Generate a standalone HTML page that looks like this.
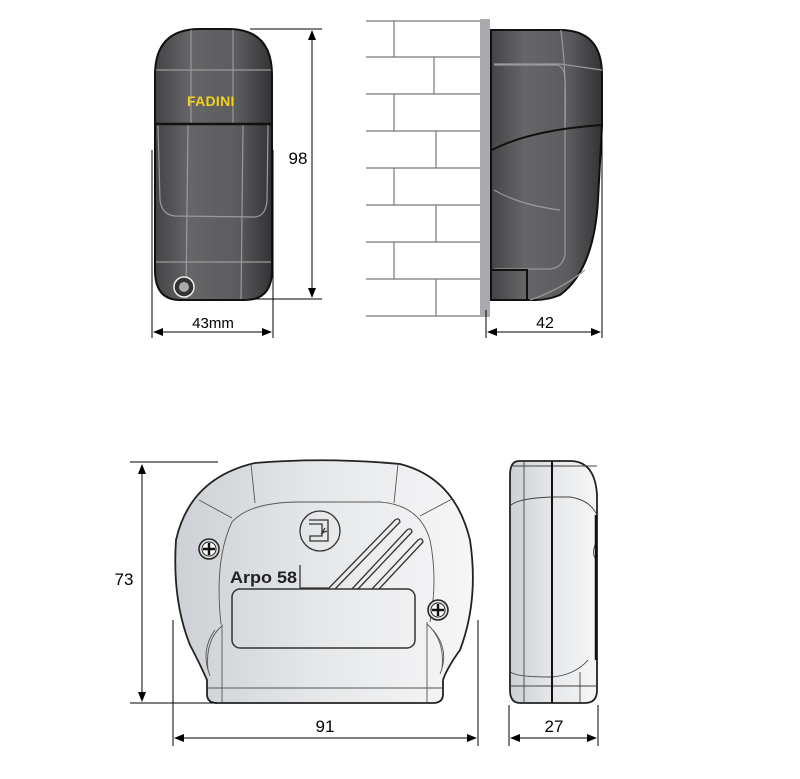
<!DOCTYPE html>
<html><head><meta charset="utf-8"><style>
html,body{margin:0;padding:0;background:#fff;}
svg{display:block;}
text{font-family:"Liberation Sans",sans-serif;}
</style></head><body>
<svg width="800" height="779" viewBox="0 0 800 779" xmlns="http://www.w3.org/2000/svg">
<defs>
<linearGradient id="dk" x1="0" x2="1" y1="0" y2="0">
<stop offset="0" stop-color="#444446"/><stop offset="0.3" stop-color="#666668"/><stop offset="0.7" stop-color="#5c5c5e"/><stop offset="1" stop-color="#333335"/></linearGradient>
<linearGradient id="lt" x1="0" x2="1" y1="0" y2="0">
<stop offset="0" stop-color="#cdd0d4"/><stop offset="0.5" stop-color="#e6e8ea"/><stop offset="1" stop-color="#f6f6f7"/></linearGradient>
<marker id="a" markerWidth="10" markerHeight="8" refX="9" refY="4" orient="auto-start-reverse" markerUnits="userSpaceOnUse"><path d="M0,0 L10,4 L0,8 Z" fill="#000"/></marker>
</defs>

<!-- top-left device -->
<path d="M155,75 Q155,29 200,29 L228,29 Q272,29 272,75 L272,270 Q272,300 245,300 L180,300 Q155,300 155,270 Z" fill="url(#dk)" stroke="#111" stroke-width="2"/>
<g stroke="#9a9a9c" stroke-width="1.2" fill="none">
<line x1="191" y1="30" x2="191" y2="125"/><line x1="233" y1="30" x2="233" y2="125"/>
<line x1="156" y1="70" x2="271" y2="70"/>
<path d="M188,125 L186,299"/><path d="M243,125 L241,299"/>
<path d="M158,125 L160,200 Q162,215 175,216 L255,217 Q266,216 267,200 L268,125"/>
<line x1="156" y1="262" x2="271" y2="262"/>
</g>
<line x1="156" y1="124" x2="271" y2="124" stroke="#111" stroke-width="2.5"/>
<text x="187" y="106" font-size="14" font-weight="bold" fill="#f2d21c" font-family="Liberation Serif,serif" letter-spacing="0.3">FADINI</text>
<circle cx="184" cy="287" r="10" fill="#333" stroke="#eee" stroke-width="1.5"/>
<circle cx="184" cy="287" r="5" fill="#aaa"/>

<g stroke="#000" stroke-width="1" fill="none">
<line x1="250" y1="29" x2="322" y2="29"/><line x1="250" y1="299" x2="322" y2="299"/>
<line x1="312" y1="31" x2="312" y2="297" marker-start="url(#a)" marker-end="url(#a)"/>
<line x1="152" y1="150" x2="152" y2="338"/><line x1="273" y1="150" x2="273" y2="338"/>
<line x1="154" y1="332" x2="271" y2="332" marker-start="url(#a)" marker-end="url(#a)"/>
</g>
<text x="298" y="164" font-size="17" text-anchor="middle">98</text>
<text x="213" y="328" font-size="15" text-anchor="middle">43mm</text>

<!-- brick wall -->
<g stroke="#777" stroke-width="1.2" fill="none">
<line x1="366" y1="21" x2="480" y2="21"/><line x1="366" y1="57" x2="480" y2="57"/>
<line x1="366" y1="94" x2="480" y2="94"/><line x1="366" y1="131" x2="480" y2="131"/>
<line x1="366" y1="168" x2="480" y2="168"/><line x1="366" y1="205" x2="480" y2="205"/>
<line x1="366" y1="242" x2="480" y2="242"/><line x1="366" y1="279" x2="480" y2="279"/>
<line x1="366" y1="316" x2="480" y2="316"/>
<line x1="394" y1="21" x2="394" y2="57"/><line x1="434" y1="57" x2="434" y2="94"/>
<line x1="394" y1="94" x2="394" y2="131"/><line x1="436" y1="131" x2="436" y2="168"/>
<line x1="394" y1="168" x2="394" y2="205"/><line x1="436" y1="205" x2="436" y2="242"/>
<line x1="394" y1="242" x2="394" y2="279"/><line x1="436" y1="279" x2="436" y2="316"/>
</g>
<rect x="480" y="19" width="10" height="298" fill="#a9aaad"/>

<!-- side device -->
<path d="M491,30 L560,30 Q602,30 602,75 L602,125 L598,200 Q594,270 560,295 Q548,300 535,300 L491,300 Z" fill="url(#dk)" stroke="#111" stroke-width="2"/>
<g stroke="#9a9a9c" stroke-width="1.2" fill="none">
<path d="M494,64 L560,64 L602,70"/>
<path d="M494,65 L558,65 Q565,68 565,80 L565,255 Q562,268 550,269 L494,269"/>
<path d="M561,30 Q567,80 565,125"/>
<path d="M494,190 Q520,205 560,210"/>
<path d="M530,300 Q560,290 585,270"/>
</g>
<path d="M492,150 Q530,130 602,125" stroke="#111" stroke-width="2" fill="none"/>
<path d="M492,270 L527,270 L527,299" stroke="#111" stroke-width="2" fill="none"/>
<g stroke="#000" stroke-width="1" fill="none">
<line x1="486" y1="310" x2="486" y2="338"/><line x1="602" y1="125" x2="602" y2="338"/>
<line x1="488" y1="332" x2="600" y2="332" marker-start="url(#a)" marker-end="url(#a)"/>
</g>
<text x="545" y="328" font-size="16" text-anchor="middle">42</text>

<!-- bottom front device -->
<path d="M255,463 Q325,457 400,464 Q455,478 470,540 Q479,600 460,650 Q447,668 443,680 L443,694 Q443,703 433,703 L217,703 Q207,703 207,694 L207,680 Q200,664 190,645 Q172,600 176,540 Q190,478 255,463 Z" fill="url(#lt)" stroke="#222" stroke-width="1.8"/>
<g stroke="#555" stroke-width="0.9" fill="none">
<path d="M251,464 L255,503"/><path d="M398,464 L394,503"/>
<path d="M199,500 L232,518"/><path d="M452,499 L420,516"/>
<path d="M221,624 Q214,560 232,522 Q250,502 300,502 L380,502 Q420,505 430,540 Q438,580 430,622"/>
<line x1="222" y1="624" x2="222" y2="702"/><line x1="427" y1="622" x2="427" y2="702"/>
<line x1="208" y1="688" x2="442" y2="688"/>
<path d="M222,626 Q205,640 208,670"/><path d="M427,624 Q445,640 442,668"/>
<path d="M215,630 Q200,650 210,676"/><path d="M433,630 Q450,650 440,674"/>
</g>
<rect x="232" y="589" width="183" height="59" rx="8" fill="none" stroke="#333" stroke-width="1.5"/>
<g stroke="#333" stroke-width="1.3" fill="none">
<circle cx="320" cy="531" r="20"/>
<path d="M309,520 L328,520 L328,541 L310,541 L310,536 L322,536 L322,524 L309,524"/>
<path d="M325,528 L322,533 L327,531"/>
<path d="M329,588 L395,520 Q399,517 400,522 L335,589"/>
<path d="M352,589 L407,530 Q411,527 412,532 L358,589"/>
<path d="M372,589 L418,540 Q422,537 423,542 L379,589"/>
<line x1="300" y1="565" x2="300" y2="588"/>
<line x1="300" y1="588" x2="329" y2="588"/>
</g>
<text x="230" y="583" font-size="17" font-weight="bold" fill="#222" font-family="DejaVu Sans,sans-serif" textLength="67" lengthAdjust="spacingAndGlyphs">Arpo 58</text>
<g>
<circle cx="209" cy="549" r="10" fill="#ddd" stroke="#222" stroke-width="1.5"/>
<circle cx="209" cy="549" r="7" fill="#fff" stroke="#222" stroke-width="1"/>
<path d="M203,549 H215 M209,543 V555" stroke="#111" stroke-width="2.5"/>
<circle cx="438" cy="610" r="10" fill="#ddd" stroke="#222" stroke-width="1.5"/>
<circle cx="438" cy="610" r="7" fill="#fff" stroke="#222" stroke-width="1"/>
<path d="M432,610 H444 M438,604 V616" stroke="#111" stroke-width="2.5"/>
</g>
<g stroke="#000" stroke-width="1" fill="none">
<line x1="130" y1="462" x2="218" y2="462"/><line x1="130" y1="703" x2="217" y2="703"/>
<line x1="142" y1="465" x2="142" y2="701" marker-start="url(#a)" marker-end="url(#a)"/>
<line x1="173" y1="620" x2="173" y2="746"/><line x1="478" y1="620" x2="478" y2="746"/>
<line x1="175" y1="738" x2="476" y2="738" marker-start="url(#a)" marker-end="url(#a)"/>
</g>
<text x="124" y="585" font-size="17" text-anchor="middle">73</text>
<text x="325" y="732" font-size="17" text-anchor="middle">91</text>

<!-- bottom side device -->
<path d="M519,461 L570,461 Q595,461 597,495 L597,690 Q597,703 585,703 L520,703 Q510,703 510,690 L510,475 Q510,461 519,461 Z" fill="url(#lt)" stroke="#222" stroke-width="1.8"/>
<g stroke="#444" stroke-width="0.9" fill="none">
<line x1="524" y1="462" x2="524" y2="702"/><line x1="580" y1="672" x2="580" y2="702"/>
<path d="M511,505 Q520,498 552,497 L570,497 Q590,500 597,515"/>
<path d="M511,672 Q515,677 552,677 Q575,675 588,660"/>
<line x1="511" y1="686" x2="597" y2="686"/>
<line x1="511" y1="466" x2="597" y2="466"/>
<path d="M597,540 Q590,555 597,560"/>
</g>
<line x1="552" y1="461" x2="552" y2="703" stroke="#111" stroke-width="2"/>
<line x1="596" y1="515" x2="596" y2="660" stroke="#111" stroke-width="2.5"/>
<g stroke="#000" stroke-width="1" fill="none">
<line x1="509" y1="705" x2="509" y2="746"/><line x1="598" y1="705" x2="598" y2="746"/>
<line x1="511" y1="738" x2="596" y2="738" marker-start="url(#a)" marker-end="url(#a)"/>
</g>
<text x="554" y="732" font-size="17" text-anchor="middle">27</text>
</svg>
</body></html>
